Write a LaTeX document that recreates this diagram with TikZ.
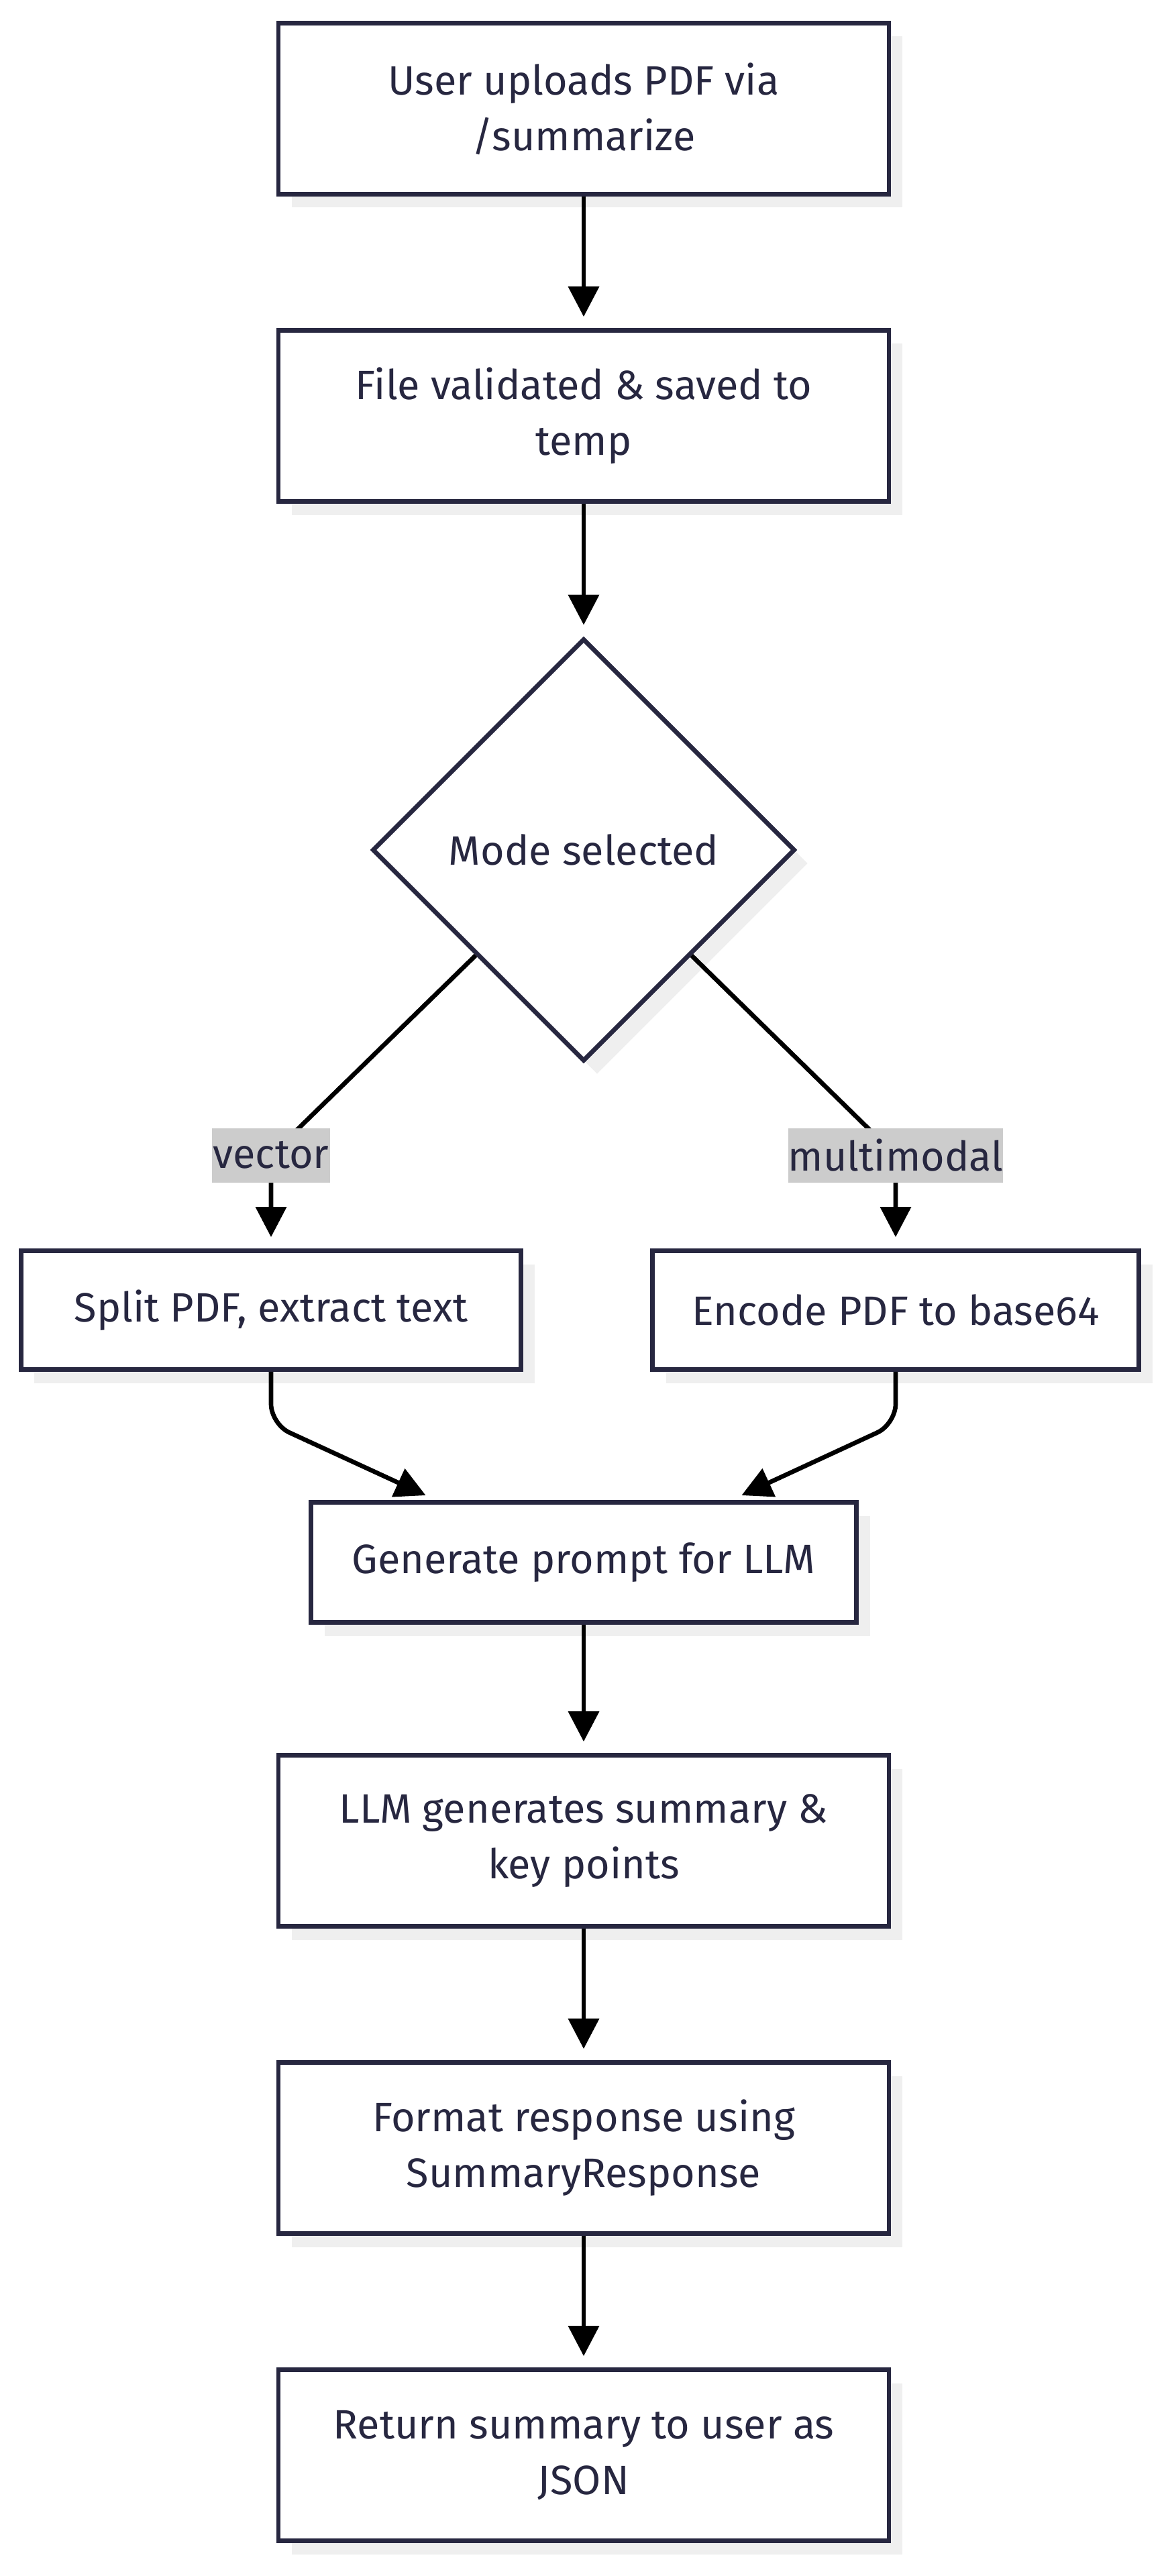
\documentclass[tikz,border=0pt]{standalone}
\usepackage{fontspec}
\setmainfont{Fira Sans}
\usepackage{tikz}
\usetikzlibrary{shapes.geometric}
\usetikzlibrary{shadows}
\usetikzlibrary{arrows.meta}
\definecolor{ink}{RGB}{39,39,64}
\definecolor{shade}{RGB}{239,239,239}
\definecolor{tagfill}{RGB}{204,204,204}
\tikzstyle{boxfont}=[font=\fontsize{17.4pt}{23.6pt}\selectfont, text=ink, align=center]
\tikzstyle{stepbox}=[rectangle, draw=ink, line width=1.9pt, fill=white, inner sep=0pt,
    minimum width=9.1cm, minimum height=2.55cm, boxfont,
    drop shadow={shadow xshift=0.2cm, shadow yshift=-0.2cm, fill=shade, opacity=1}]
\tikzstyle{choice}=[diamond, aspect=1, draw=ink, line width=1.9pt, fill=white, inner sep=0pt,
    minimum width=6.3cm, minimum height=6.3cm, boxfont,
    drop shadow={shadow xshift=0.2cm, shadow yshift=-0.2cm, fill=shade, opacity=1}]
\tikzstyle{tag}=[fill=tagfill, inner sep=0pt, minimum height=0.81cm, boxfont]
\tikzstyle{flow}=[draw=black, line width=1.9pt, -{Triangle[length=0.45cm,width=0.45cm]}, shorten >=0.17cm]

\begin{document}
\begin{tikzpicture}
\useasboundingbox (0,0) rectangle (17.37,-38.40);
\node[stepbox] (upload) at (8.70,-1.62) {User uploads PDF via\\/summarize};
\node[stepbox] (validate) at (8.70,-6.20) {File validated \& saved to\\temp};
\node[choice] (mode) at (8.70,-12.67) {Mode selected};
\node[stepbox, minimum width=7.45cm, minimum height=1.77cm] (split) at (4.04,-19.53) {Split PDF, extract text};
\node[stepbox, minimum width=7.25cm, minimum height=1.77cm] (encode) at (13.35,-19.53) {Encode PDF to base64};
\node[stepbox, minimum width=8.13cm, minimum height=1.79cm] (prompt) at (8.70,-23.29) {Generate prompt for LLM};
\node[stepbox] (llm) at (8.70,-27.44) {LLM generates summary \&\\key points};
\node[stepbox] (format) at (8.70,-32.02) {Format response using\\SummaryResponse};
\node[stepbox] (reply) at (8.70,-36.60) {Return summary to user as\\JSON};
\coordinate (vecpt) at (4.04,-17.22);
\coordinate (mmpt) at (13.35,-17.22);
\draw[flow](upload) -- (validate);
\draw[flow](validate) -- (mode);
\draw[flow](mode) -- (vecpt) node[tag, minimum width=1.76cm] (vec) {vector} -- (split);
\draw[flow](mode) -- (mmpt) node[tag, minimum width=3.09cm] (mm) {multimodal} -- (encode);
\draw[flow, rounded corners=0.3cm](split.south) -- ++(0,-0.78) -- ([xshift=-2.2cm]prompt.north);
\draw[flow, rounded corners=0.3cm](encode.south) -- ++(0,-0.78) -- ([xshift=2.2cm]prompt.north);
\draw[flow](prompt) -- (llm);
\draw[flow](llm) -- (format);
\draw[flow](format) -- (reply);
\end{tikzpicture}
\end{document}
